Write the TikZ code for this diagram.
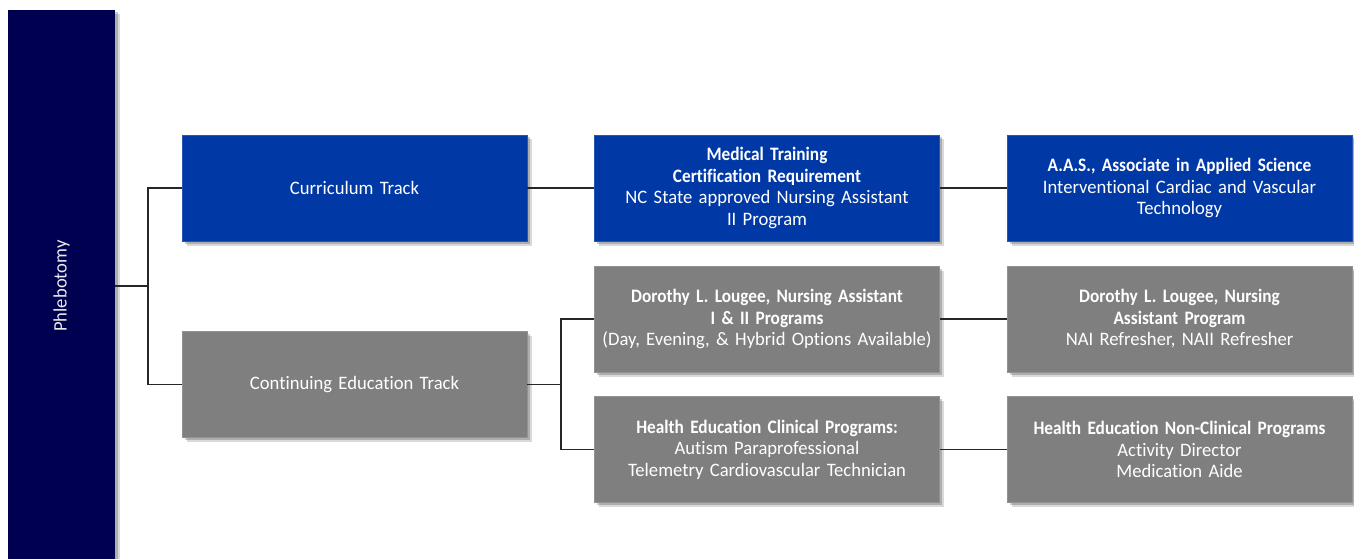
\documentclass[tikz,border=0pt]{standalone}
\usepackage{fontspec}
\setmainfont{Carlito}[RawFeature=-liga, FakeStretch=0.98, BoldFeatures={FakeStretch=0.91}]
\usetikzlibrary{shadows}
\definecolor{barnavy}{RGB}{0,0,80}
\definecolor{boxblue}{RGB}{0,56,166}
\definecolor{boxgray}{RGB}{127,127,127}

\begin{document}
\begin{tikzpicture}[x=1pt, y=-1pt] % 1 unit = 1 px of the page
\tikzstyle{myshadow} = [drop shadow={shadow xshift=4.5pt, shadow yshift=-4.5pt, opacity=.15, fill=black},
                        drop shadow={shadow xshift=2.5pt, shadow yshift=-2.5pt, opacity=.2, fill=black}] % soft shadow
\tikzstyle{mybox} = [rectangle, myshadow, minimum width=345pt, minimum height=106pt, text width=335pt,
                     align=center, inner sep=0pt, text=white, font=\fontsize{19}{21.5}\selectfont] % track box
\tikzstyle{bluebox} = [mybox, fill=boxblue, draw=boxblue!85!white, line width=.8pt] % curriculum
\tikzstyle{graybox} = [mybox, fill=boxgray, draw=boxgray!85!white, line width=.8pt] % continuing education
\tikzstyle{conn} = [line width=1.3pt, black!85] % connector

\useasboundingbox (0,0) rectangle (1354,559);

% left bar
\node[rectangle, rotate=90, fill=barnavy, myshadow, minimum width=552pt, minimum height=107pt,
      inner sep=0pt, text=white!85!gray, font=\fontsize{19}{21.5}\selectfont] (bar) at (61.5,286) {Phlebotomy};

% first column
\node[bluebox] (ct) at (354.5,188) {Curriculum Track};
\node[graybox] (ce) at (354.5,384.5) {Continuing Education Track};

% second column
\node[bluebox] (med) at (767,188) {\textbf{Medical Training}\\ \textbf{Certification Requirement}\\
    NC State approved Nursing Assistant\\ II Program};
\node[graybox] (dor1) at (767,319) {\textbf{Dorothy L. Lougee, Nursing Assistant}\\ \textbf{I \& II Programs}\\
    (Day, Evening, \& Hybrid Options Available)};
\node[graybox] (hec) at (767,449.5) {\textbf{Health Education Clinical Programs:}\\
    Autism Paraprofessional\\ Telemetry Cardiovascular Technician};

% third column
\node[bluebox] (aas) at (1179.5,188) {\textbf{A.A.S., Associate in Applied Science}\\
    Interventional Cardiac and Vascular\\ Technology};
\node[graybox] (dor2) at (1179.5,319) {\textbf{Dorothy L. Lougee, Nursing}\\ \textbf{Assistant Program}\\
    NAI Refresher, NAII Refresher};
\node[graybox] (hen) at (1179.5,449.5) {\textbf{Health Education Non-Clinical Programs}\\
    Activity Director\\ Medication Aide};

% connectors
\coordinate (j1) at (148,286);
\coordinate (j2) at (561,384.5);
\draw[conn] (bar.south) -- (j1);
\draw[conn] (ct.west) -- (ct.west -| j1) -- (ce.west -| j1) -- (ce.west);
\draw[conn] (ct.east) -- (med.west);
\draw[conn] (med.east) -- (aas.west);
\draw[conn] (ce.east) -- (j2);
\draw[conn] (dor1.west) -- (dor1.west -| j2) -- (hec.west -| j2) -- (hec.west);
\draw[conn] (dor1.east) -- (dor2.west);
\draw[conn] (hec.east) -- (hen.west);
\end{tikzpicture}
\end{document}
